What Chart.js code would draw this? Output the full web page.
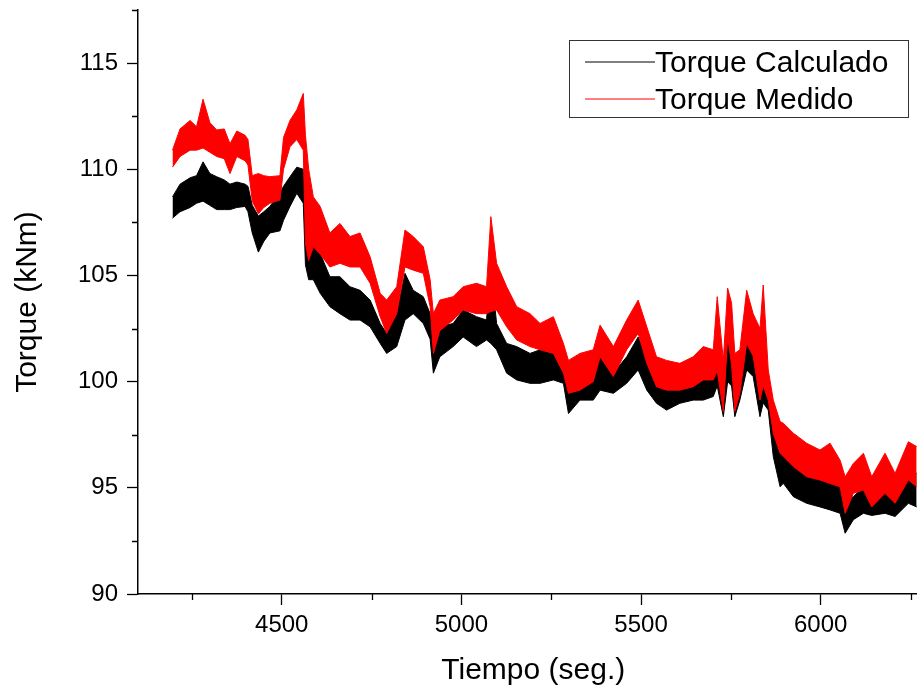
<!DOCTYPE html>
<html>
<head>
<meta charset="utf-8">
<title>Torque</title>
<script src="https://cdn.jsdelivr.net/npm/chart.js@4.4.1/dist/chart.umd.min.js"></script>
<style>
    html, body { margin: 0; padding: 0; background: #fff; overflow: hidden; }
    #wrap { width: 960px; height: 691px; }
</style>
</head>
<body>
<div id="wrap"><canvas id="chart"></canvas></div>
<script>
// tiempo (seg.) y envolvente (max / min) de cada señal
const tiempo = [4196, 4217, 4245, 4263, 4281, 4300, 4319, 4340, 4356, 4375, 4398, 4406, 4418, 4435, 4450, 4467, 4495, 4505, 4523, 4542, 4560, 4566, 4575, 4588, 4607, 4634, 4662, 4690, 4718, 4746, 4774, 4792, 4820, 4843, 4866, 4894, 4913, 4922, 4940, 4977, 5005, 5042, 5070, 5082, 5098, 5126, 5154, 5191, 5219, 5256, 5284, 5298, 5330, 5367, 5386, 5423, 5460, 5492, 5516, 5543, 5571, 5608, 5645, 5673, 5701, 5712, 5729, 5741, 5752, 5761, 5775, 5794, 5812, 5831, 5840, 5854, 5868, 5887, 5896, 5924, 5961, 5998, 6026, 6054, 6068, 6091, 6119, 6142, 6179, 6207, 6244, 6267];
const calculadoMax = [108.7, 109.3, 109.6, 109.7, 110.35, 109.8, 109.65, 109.5, 109.3, 109.4, 109.3, 109.2, 108.3, 107.8, 108.0, 108.25, 108.9, 109.2, 109.65, 110.1, 110.0, 108.6, 107.8, 107.3, 106.04, 104.94, 104.94, 104.47, 104.3, 103.84, 102.74, 102.27, 103.2, 105.1, 104.3, 104.0, 103.2, 102.27, 102.58, 102.74, 103.37, 103.06, 102.9, 105.4, 102.74, 101.8, 101.65, 101.33, 101.5, 101.33, 100.86, 100.08, 100.24, 100.7, 101.17, 100.4, 101.17, 102.1, 101.17, 100.24, 100.0, 100.0, 100.08, 100.24, 100.55, 101.65, 100.55, 101.96, 101.2, 100.0, 100.4, 102.0, 101.33, 100.4, 101.5, 100.08, 98.04, 96.78, 96.63, 96.15, 95.68, 95.52, 95.68, 95.21, 94.43, 94.58, 95.05, 94.58, 95.05, 94.74, 95.84, 95.68];
const calculadoMin = [107.7, 108.0, 108.2, 108.4, 108.5, 108.3, 108.1, 108.1, 108.1, 108.2, 108.25, 108.0, 107.0, 106.1, 106.6, 107.0, 107.1, 107.6, 108.25, 108.87, 108.4, 105.5, 104.8, 104.8, 104.16, 103.53, 103.2, 102.9, 102.9, 102.58, 101.8, 101.33, 101.65, 102.9, 103.2, 102.74, 102.0, 100.4, 101.17, 101.65, 102.1, 101.65, 101.96, 101.8, 101.5, 100.4, 100.08, 99.92, 99.92, 100.08, 99.92, 98.5, 99.13, 99.13, 99.6, 99.45, 99.92, 100.55, 99.6, 98.98, 98.66, 98.98, 99.13, 99.13, 99.3, 99.8, 98.35, 100.0, 99.8, 98.35, 99.13, 100.55, 100.24, 98.35, 99.0, 98.66, 96.47, 95.05, 95.21, 94.58, 94.27, 94.1, 93.96, 93.8, 92.86, 93.5, 93.8, 93.7, 93.8, 93.65, 94.27, 94.1];
const medidoMax = [110.9, 111.9, 112.3, 112.0, 113.3, 112.2, 111.85, 111.9, 111.2, 111.8, 111.6, 111.4, 109.7, 109.8, 109.7, 109.65, 109.7, 111.5, 112.3, 112.8, 113.57, 111.6, 110.0, 108.7, 108.25, 107.0, 107.45, 106.83, 107.0, 105.88, 104.16, 103.84, 104.47, 107.14, 106.83, 106.35, 104.8, 103.2, 103.84, 104.0, 104.47, 104.63, 104.47, 107.77, 105.57, 104.47, 103.53, 103.2, 102.74, 103.06, 101.8, 101.0, 101.33, 101.5, 102.66, 101.65, 102.9, 103.84, 102.58, 101.17, 101.0, 100.86, 101.17, 101.65, 101.5, 104.0, 101.0, 104.4, 103.7, 101.33, 101.5, 104.3, 103.2, 102.5, 104.55, 100.55, 99.13, 98.12, 98.04, 97.57, 97.1, 96.78, 97.1, 96.3, 95.52, 96.15, 96.63, 95.52, 96.63, 95.68, 97.17, 96.94];
const medidoMin = [110.1, 110.6, 110.9, 110.9, 111.0, 110.8, 110.6, 110.5, 109.8, 110.6, 110.4, 110.2, 108.5, 107.9, 108.2, 108.4, 108.55, 110.0, 111.06, 111.4, 110.9, 106.5, 105.7, 106.35, 106.0, 105.4, 105.57, 105.4, 105.4, 104.63, 103.06, 102.27, 103.2, 105.4, 105.25, 105.1, 103.53, 101.33, 102.4, 102.9, 103.37, 103.2, 103.2, 103.3, 103.37, 102.58, 101.96, 101.65, 101.5, 101.33, 100.4, 99.45, 99.6, 100.0, 101.17, 100.24, 101.5, 102.27, 100.86, 99.76, 99.6, 99.6, 99.76, 100.08, 100.08, 100.5, 98.6, 102.1, 100.8, 98.6, 99.45, 101.8, 101.2, 99.13, 99.8, 99.13, 97.57, 96.63, 96.47, 96.0, 95.52, 95.37, 95.2, 95.05, 93.8, 94.74, 94.9, 94.1, 94.74, 94.27, 95.37, 95.05];

// marcas de los ejes (con etiqueta) y marcas menores (sin etiqueta)
const ticksX = [4500, 5000, 5500, 6000];
const ticksXMenores = [4250, 4750, 5250, 5750, 6250];
const ticksY = [90, 95, 100, 105, 110, 115];
const ticksYMenores = [92.5, 97.5, 102.5, 107.5, 112.5, 117.5];

const fuente = "'Liberation Sans', Arial, sans-serif";

function puntos(valores) {
    return tiempo.map((t, i) => ({ x: t, y: valores[i] }));
}

function banda(label, color, alto, bajo, order) {
    return [
        { label, data: puntos(alto), borderColor: color, backgroundColor: color, borderWidth: 1, pointRadius: 0, fill: '+1', order },
        { label: label + ' min', data: puntos(bajo), borderColor: color, backgroundColor: color, borderWidth: 1, pointRadius: 0, fill: false, order }
    ];
}

// marcas menores y leyenda con recuadro, como en el original
const extrasPlugin = {
    id: 'extras',
    afterDraw(chart) {
        const ctx = chart.ctx, x = chart.scales.x, y = chart.scales.y;
        ctx.save();
        ctx.strokeStyle = '#000';
        ctx.lineWidth = 1.3;
        ctx.beginPath();
        ticksXMenores.forEach(v => {
            const px = Math.round(x.getPixelForValue(v)) + 0.5;
            ctx.moveTo(px, x.top);
            ctx.lineTo(px, x.top + 6);
        });
        ticksYMenores.forEach(v => {
            const py = Math.round(y.getPixelForValue(v)) + 0.5;
            ctx.moveTo(y.right, py);
            ctx.lineTo(y.right - 6, py);
        });
        ctx.stroke();

        // leyenda
        const items = [
            { text: chart.data.datasets[0].label, color: chart.data.datasets[0].borderColor },
            { text: chart.data.datasets[2].label, color: chart.data.datasets[2].borderColor }
        ];
        ctx.fillStyle = '#fff';
        ctx.fillRect(569, 40, 339, 77);
        ctx.strokeStyle = '#333';
        ctx.lineWidth = 1;
        ctx.strokeRect(569.5, 40.5, 339, 77);
        ctx.font = '30px ' + fuente;
        ctx.textBaseline = 'alphabetic';
        items.forEach((it, i) => {
            const ly = 62 + i * 37;
            ctx.strokeStyle = it.color;
            ctx.lineWidth = 1.2;
            ctx.beginPath();
            ctx.moveTo(585, ly);
            ctx.lineTo(655, ly);
            ctx.stroke();
            ctx.fillStyle = '#000';
            ctx.fillText(it.text, 655, ly + 10);
        });
        ctx.restore();
    }
};

new Chart(document.getElementById('chart').getContext('2d'), {
    type: 'line',
    data: {
        datasets: [
            ...banda('Torque Calculado', '#000000', calculadoMax, calculadoMin, 1),
            ...banda('Torque Medido', '#ff0000', medidoMax, medidoMin, 0)
        ]
    },
    options: {
        responsive: true,
        maintainAspectRatio: false,
        animation: false,
        events: [],
        layout: { padding: { top: 10, right: 31.5, bottom: 0, left: 0 } },
        elements: { line: { tension: 0 } },
        plugins: { legend: { display: false }, tooltip: { enabled: false } },
        scales: {
            x: {
                type: 'linear',
                min: 4100,
                max: 6300,
                border: { color: '#000', width: 1.5 },
                grid: { drawOnChartArea: false, tickLength: 11, color: '#000', tickWidth: 1.3 },
                ticks: { color: '#000', font: { family: fuente, size: 24 }, padding: 6, maxRotation: 0, autoSkip: false, callback: v => String(v) },
                title: { display: true, text: 'Tiempo (seg.)', color: '#000', font: { family: fuente, size: 30 }, padding: { top: 0, bottom: 2 } },
                afterBuildTicks: s => { s.ticks = ticksX.map(v => ({ value: v })); },
                afterFit: s => { s.height = 97; s.paddingLeft = 0; s.paddingRight = 0; }
            },
            y: {
                type: 'linear',
                min: 90,
                max: 117.5,
                border: { color: '#000', width: 1.5 },
                grid: { drawOnChartArea: false, tickLength: 11, color: '#000', tickWidth: 1.3 },
                ticks: { color: '#000', font: { family: fuente, size: 24 }, padding: 9, autoSkip: false, callback: v => String(v) },
                title: { display: true, text: 'Torque (kNm)', color: '#000', font: { family: fuente, size: 30 }, padding: { top: 10, bottom: 0 } },
                afterBuildTicks: s => { s.ticks = ticksY.map(v => ({ value: v })); },
                afterFit: s => { s.width = 138; s.paddingTop = 0; s.paddingBottom = 0; }
            }
        }
    },
    plugins: [extrasPlugin]
});
</script>
</body>
</html>
